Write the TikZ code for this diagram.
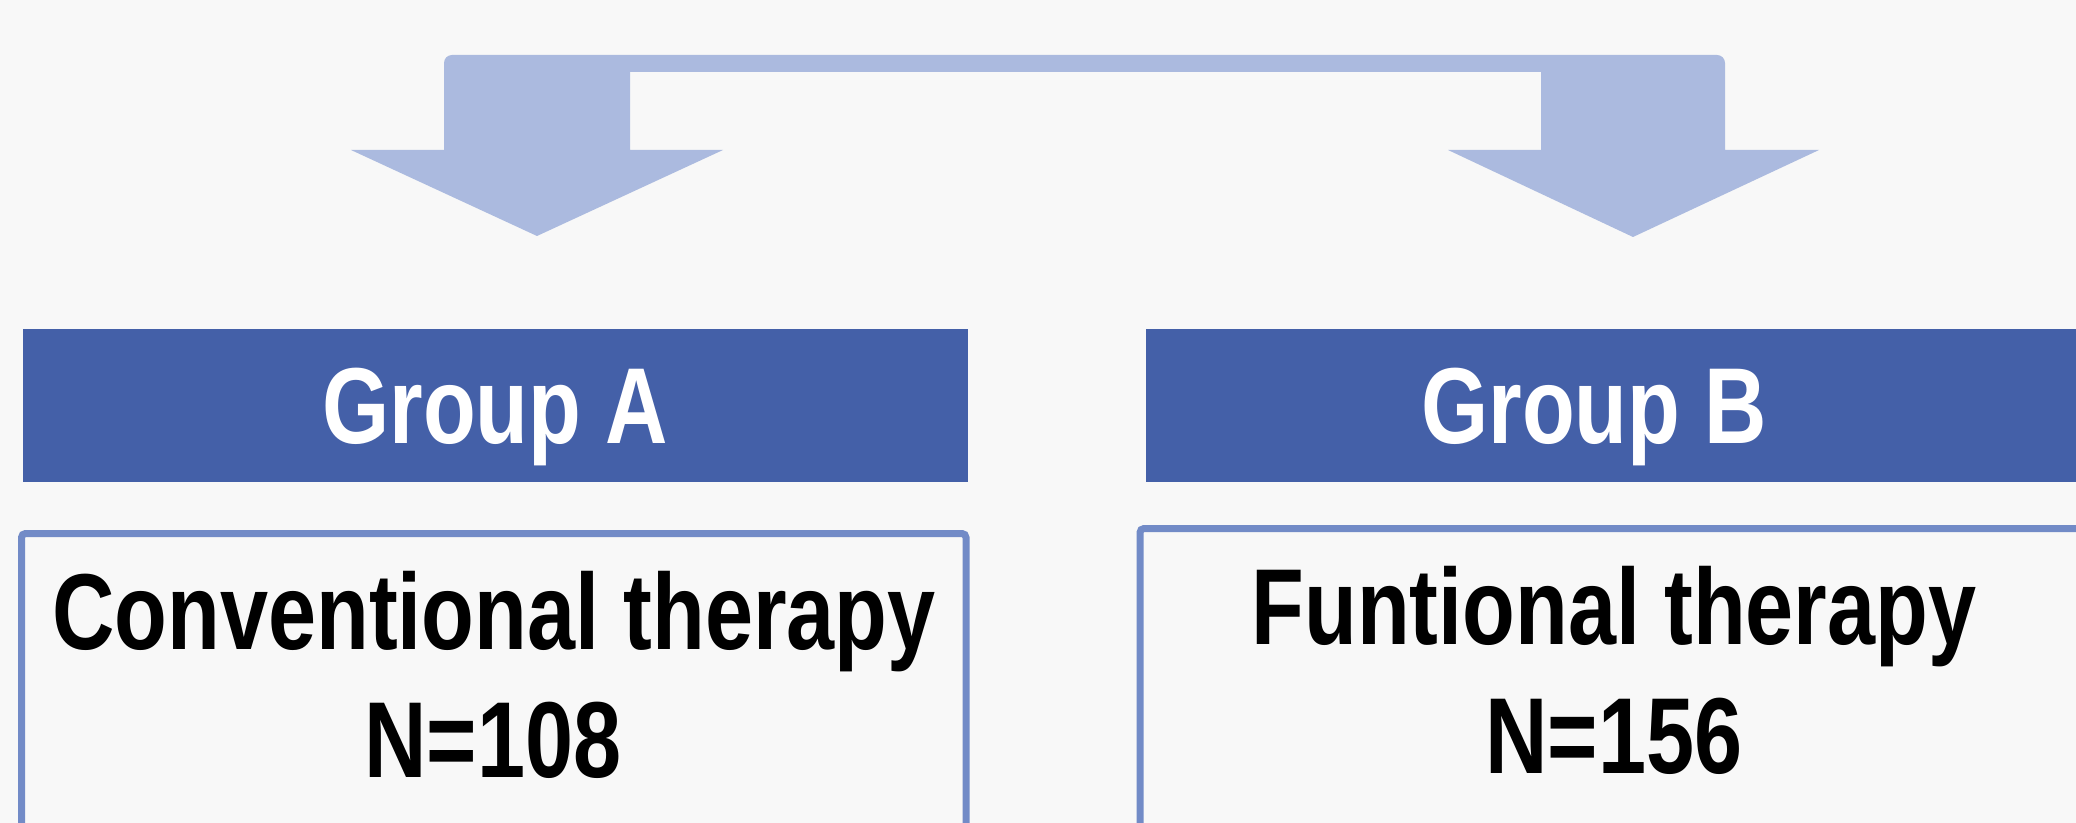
\documentclass[tikz,border=0pt]{standalone}
\usepackage{fontspec}
\setmainfont{Liberation Sans}[FakeStretch=0.8]
\definecolor{C0}{HTML}{F8F8F8}
\definecolor{C1}{HTML}{ABBADF}
\definecolor{C2}{HTML}{4460A8}
\definecolor{C3}{HTML}{728BC7}
\begin{document}
\begin{tikzpicture}[x=0.5pt,y=-0.5pt]
\tikzstyle{hd} = [fill=C2,inner sep=0pt,minimum width=472.5pt,minimum height=76.5pt]
\tikzstyle{bx} = [draw=C3,line width=3.5pt,rounded corners=2pt,inner sep=0pt]
\tikzstyle{w} = [font=\fontsize{54}{64}\selectfont\bfseries,anchor=base,inner sep=0pt]
\fill[C0] (0,0) rectangle (2076,823);
\useasboundingbox (0,0) rectangle (2076,823);
% split arrow
\fill[C1] (444,150) -- (351,150) -- (537,236) -- (723,150) -- (630,150) -- (630,72)
  -- (1541,72) -- (1541,150) -- (1448,150) -- (1633,237) -- (1819,150) -- (1725,150)
  {[rounded corners=4pt] -- (1725,55) -- (444,55) -- (444,100)} -- cycle;
% groups
\node[hd] (hdA) at (495.5,405.5) {};
\node[hd] (hdB) at (1618.5,405.5) {};
\node[w,white] (gA) at (495,443.3) {Group A};
\node[w,white] (gB) at (1594,443.3) {Group B};
\node[bx,minimum width=472.25pt,minimum height=233.25pt] (bxA) at (493.75,766.75) {};
\node[bx,minimum width=474pt,minimum height=235.75pt] (bxB) at (1614,764.25) {};
\node[w] (thA) at (494,649) {Conventional therapy};
\node[w] (nA) at (493,777.7) {N=108};
\node[w] (thB) at (1614,644) {Funtional therapy};
\node[w] (nB) at (1614,773) {N=156};
\end{tikzpicture}
\end{document}
